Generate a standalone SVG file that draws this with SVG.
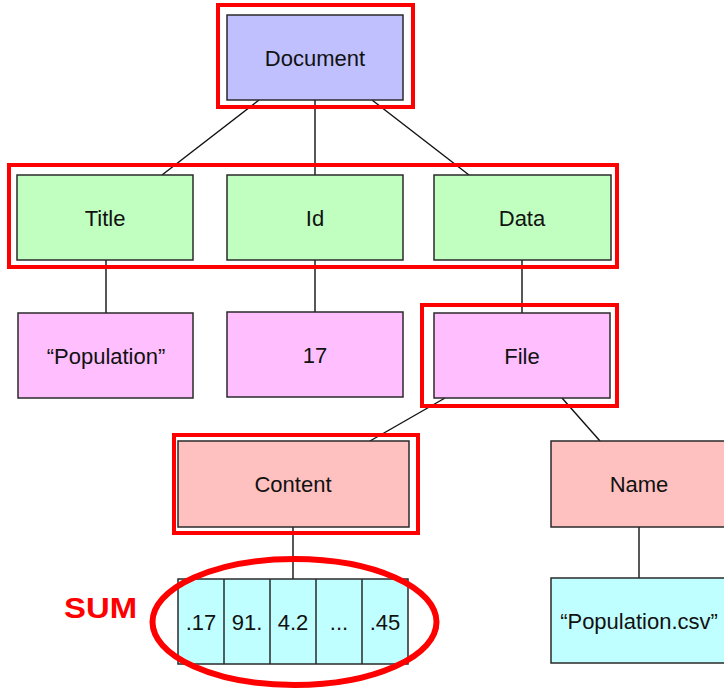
<svg xmlns="http://www.w3.org/2000/svg" width="724" height="690" viewBox="0 0 724 690">
  <style>
    .box { stroke: #2a2a2a; stroke-width: 1.5; }
    .doc { fill: #c0c0ff; }
    .field { fill: #c0ffc0; }
    .val { fill: #ffbfff; }
    .sub { fill: #ffc0c0; }
    .leaf { fill: #c0ffff; }
    .lbl { font-family: "Liberation Sans", Arial, sans-serif; font-size: 22px; fill: #111; text-anchor: middle; }
    .edge { stroke: #111; stroke-width: 1.4; fill: none; }
    .hl { fill: none; stroke: #ff0000; stroke-width: 4; }
  </style>
  <rect width="724" height="690" fill="#ffffff"/>

  <!-- tree edges -->
  <g id="connectors">
    <line class="edge" x1="259" y1="100" x2="162" y2="175"/>
    <line class="edge" x1="315" y1="100" x2="315" y2="175"/>
    <line class="edge" x1="372" y1="100" x2="469" y2="175"/>
    <line class="edge" x1="106" y1="260" x2="106" y2="313"/>
    <line class="edge" x1="315" y1="260" x2="315" y2="312"/>
    <line class="edge" x1="522" y1="260" x2="522" y2="313"/>
    <line class="edge" x1="445" y1="398" x2="370" y2="441"/>
    <line class="edge" x1="562" y1="398" x2="600" y2="441"/>
    <line class="edge" x1="293" y1="527" x2="293" y2="579"/>
    <line class="edge" x1="639" y1="527" x2="639" y2="578"/>
  </g>

  <g id="document">
    <rect class="box doc" x="227" y="15" width="176" height="85"/>
    <text class="lbl" x="315" y="66">Document</text>
  </g>

  <g id="title">
    <rect class="box field" x="17" y="175" width="176" height="85"/>
    <text class="lbl" x="105" y="226">Title</text>
  </g>
  <g id="id">
    <rect class="box field" x="227" y="175" width="176" height="85"/>
    <text class="lbl" x="315" y="226">Id</text>
  </g>
  <g id="data">
    <rect class="box field" x="434" y="175" width="177" height="85"/>
    <text class="lbl" x="522" y="226">Data</text>
  </g>

  <g id="title-value">
    <rect class="box val" x="18" y="313" width="175" height="85"/>
    <text class="lbl" x="106" y="364">“Population”</text>
  </g>
  <g id="id-value">
    <rect class="box val" x="227" y="312" width="176" height="85"/>
    <text class="lbl" x="315" y="363">17</text>
  </g>
  <g id="file">
    <rect class="box val" x="434" y="313" width="176" height="85"/>
    <text class="lbl" x="522" y="364">File</text>
  </g>

  <g id="content">
    <rect class="box sub" x="178" y="441" width="231" height="86"/>
    <text class="lbl" x="293" y="492">Content</text>
  </g>
  <g id="name">
    <rect class="box sub" x="551" y="441" width="176" height="86"/>
    <text class="lbl" x="639" y="492">Name</text>
  </g>

  <g id="content-values">
    <rect class="box leaf" x="178" y="579" width="230" height="85"/>
    <line class="box" x1="224" y1="579" x2="224" y2="664"/>
    <line class="box" x1="270" y1="579" x2="270" y2="664"/>
    <line class="box" x1="316" y1="579" x2="316" y2="664"/>
    <line class="box" x1="362" y1="579" x2="362" y2="664"/>
    <text class="lbl" x="201" y="630">.17</text>
    <text class="lbl" x="247" y="630">91.</text>
    <text class="lbl" x="293" y="630">4.2</text>
    <text class="lbl" x="339" y="630">...</text>
    <text class="lbl" x="385" y="630">.45</text>
  </g>
  <g id="name-value">
    <rect class="box leaf" x="551" y="578" width="176" height="85"/>
    <text class="lbl" x="639" y="629">“Population.csv”</text>
  </g>

  <!-- red highlight marks -->
  <g id="highlights">
    <rect class="hl" x="218" y="5" width="195" height="102"/>
    <rect class="hl" x="9" y="165" width="608" height="102"/>
    <rect class="hl" x="422" y="305" width="195" height="101"/>
    <rect class="hl" x="174" y="435" width="244" height="98"/>
    <ellipse cx="294.5" cy="622" rx="142" ry="63" fill="none" stroke="#ff0000" stroke-width="6"/>
    <text x="64" y="618" textLength="73" lengthAdjust="spacingAndGlyphs" style="font-family:'Liberation Sans',Arial,sans-serif;font-size:30px;font-weight:bold;fill:#ff0000">SUM</text>
  </g>
</svg>
